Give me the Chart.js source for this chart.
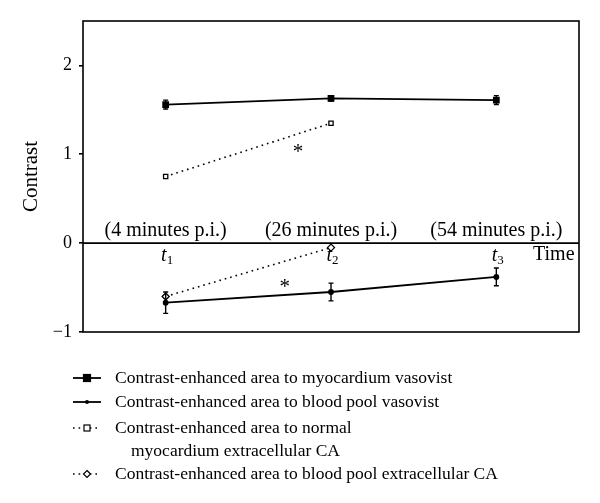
<!DOCTYPE html>
<html>
<head>
<meta charset="utf-8">
<script src="https://cdn.jsdelivr.net/npm/chart.js@4.4.0/dist/chart.umd.min.js"></script>
<style>
  html, body { margin: 0; padding: 0; background: #fff; }
  #wrap { position: relative; width: 600px; height: 503px; }
</style>
</head>
<body>
<div id="wrap"><canvas id="chart" width="600" height="503"></canvas></div>
<script>
const timePoints = [1, 2, 3];
const timeLabels = ["(4 minutes p.i.)", "(26 minutes p.i.)", "(54 minutes p.i.)"];
const timeSubscripts = ["1", "2", "3"];

const myoVasovist = [1.56, 1.63, 1.61];
const myoVasovistErr = [0.05, 0.03, 0.05];
const bloodVasovist = [-0.67, -0.55, -0.38];
const bloodVasovistErr = [0.12, 0.1, 0.1];
const myoExtra = [0.75, 1.35];
const bloodExtra = [-0.6, -0.05];

const seriesNames = [
    "Contrast-enhanced area to myocardium vasovist",
    "Contrast-enhanced area to blood pool vasovist",
    "Contrast-enhanced area to normal",
    "Contrast-enhanced area to blood pool extracellular CA"
];
const serif = "'Liberation Serif', 'DejaVu Serif', serif";

function toXY(values) {
    return values.map((v, i) => ({ x: timePoints[i], y: v }));
}

const errorBars = {
    id: "errorBars",
    afterDatasetsDraw(chart) {
        const ctx = chart.ctx;
        const ys = chart.scales.y;
        [[0, myoVasovistErr], [1, bloodVasovistErr]].forEach(([di, errs]) => {
            const meta = chart.getDatasetMeta(di);
            const vals = chart.data.datasets[di].data;
            meta.data.forEach((pt, i) => {
                const top = ys.getPixelForValue(vals[i].y + errs[i]);
                const bot = ys.getPixelForValue(vals[i].y - errs[i]);
                ctx.save();
                ctx.strokeStyle = "#000";
                ctx.lineWidth = 1.4;
                ctx.beginPath();
                ctx.moveTo(pt.x, top); ctx.lineTo(pt.x, bot);
                ctx.moveTo(pt.x - 2.5, top); ctx.lineTo(pt.x + 2.5, top);
                ctx.moveTo(pt.x - 2.5, bot); ctx.lineTo(pt.x + 2.5, bot);
                ctx.stroke();
                ctx.restore();
            });
        });
    }
};

const frame = {
    id: "frame",
    beforeDatasetsDraw(chart) {
        const { ctx, chartArea: a, scales } = chart;
        const y0 = scales.y.getPixelForValue(0);
        ctx.save();
        ctx.strokeStyle = "#000";
        ctx.lineWidth = 1.6;
        ctx.strokeRect(a.left, a.top, a.right - a.left, a.bottom - a.top);
        ctx.beginPath();
        ctx.moveTo(a.left, y0); ctx.lineTo(a.right, y0);
        ctx.stroke();

        ctx.fillStyle = "#000";
        ctx.textBaseline = "middle";
        timePoints.forEach((t, i) => {
            const px = scales.x.getPixelForValue(t);
            ctx.font = "20px " + serif;
            ctx.textAlign = "center";
            ctx.fillText(timeLabels[i], px, y0 - 12);
            ctx.font = "italic 20px " + serif;
            ctx.textAlign = "right";
            ctx.fillText("t", px + 1, y0 + 13);
            ctx.font = "13px " + serif;
            ctx.textAlign = "left";
            ctx.fillText(timeSubscripts[i], px + 1, y0 + 17);
        });
        ctx.font = "20px " + serif;
        ctx.textAlign = "left";
        ctx.fillText("Time", a.right - 46, y0 + 12);

        ctx.font = "21px " + serif;
        ctx.textAlign = "center";
        ctx.fillText("*", scales.x.getPixelForValue(1.8), scales.y.getPixelForValue(1.02));
        ctx.fillText("*", scales.x.getPixelForValue(1.72), scales.y.getPixelForValue(-0.5));

        ctx.save();
        ctx.translate(31, (a.top + a.bottom) / 2);
        ctx.rotate(-Math.PI / 2);
        ctx.font = "21px " + serif;
        ctx.fillText("Contrast", 0, 0);
        ctx.restore();
        ctx.restore();
    }
};

const legendBox = {
    id: "legendBox",
    afterDraw(chart) {
        const ctx = chart.ctx;
        const rows = [378, 402, 428, 474];
        ctx.save();
        chart.data.datasets.forEach((ds, i) => {
            const y = rows[i];
            ctx.strokeStyle = "#000";
            ctx.lineWidth = ds.borderWidth;
            ctx.setLineDash(ds.borderDash || []);
            ctx.beginPath();
            ctx.moveTo(73, y); ctx.lineTo(101, y);
            ctx.stroke();
            ctx.setLineDash([]);
            ctx.lineWidth = 1.2;
            ctx.fillStyle = ds.pointBackgroundColor;
            const r = ds.pointRadius;
            if (ds.pointStyle === "rect") {
                ctx.fillRect(87 - r, y - r, 2 * r, 2 * r);
                ctx.strokeRect(87 - r, y - r, 2 * r, 2 * r);
            } else if (ds.pointStyle === "rectRot") {
                ctx.beginPath();
                ctx.moveTo(87, y - r); ctx.lineTo(87 + r, y);
                ctx.lineTo(87, y + r); ctx.lineTo(87 - r, y);
                ctx.closePath(); ctx.fill(); ctx.stroke();
            } else {
                ctx.beginPath(); ctx.arc(87, y, r, 0, Math.PI * 2); ctx.fill();
            }
            ctx.fillStyle = "#000";
            ctx.font = "17.5px " + serif;
            ctx.textBaseline = "middle";
            ctx.textAlign = "left";
            ctx.fillText(seriesNames[i], 115, y);
        });
        ctx.fillText("myocardium extracellular CA", 131, 451);
        ctx.restore();
    }
};

new Chart(document.getElementById("chart"), {
    type: "line",
    data: {
        datasets: [
            {
                label: seriesNames[0], data: toXY(myoVasovist),
                borderColor: "#000", borderWidth: 1.8,
                pointStyle: "rect", pointRadius: 3.5,
                pointBackgroundColor: "#000", pointBorderColor: "#000"
            },
            {
                label: seriesNames[1], data: toXY(bloodVasovist),
                borderColor: "#000", borderWidth: 1.8,
                pointStyle: "circle", pointRadius: 2,
                pointBackgroundColor: "#000", pointBorderColor: "#000"
            },
            {
                label: seriesNames[2], data: toXY(myoExtra),
                borderColor: "#000", borderWidth: 1.6, borderDash: [1.6, 4],
                pointStyle: "rect", pointRadius: 3,
                pointBackgroundColor: "#fff", pointBorderColor: "#000", pointBorderWidth: 1.3
            },
            {
                label: seriesNames[3], data: toXY(bloodExtra),
                borderColor: "#000", borderWidth: 1.6, borderDash: [1.6, 4],
                pointStyle: "rectRot", pointRadius: 3.5,
                pointBackgroundColor: "#fff", pointBorderColor: "#000", pointBorderWidth: 1.3
            }
        ]
    },
    options: {
        responsive: false,
        animation: false,
        layout: { padding: { top: 21, right: 21, bottom: 171, left: 0 } },
        plugins: { legend: { display: false }, tooltip: { enabled: false } },
        scales: {
            x: { type: "linear", min: 0.5, max: 3.5, display: false },
            y: {
                min: -1, max: 2.5,
                afterFit(axis) { axis.width = 83; },
                border: { display: false },
                grid: { drawOnChartArea: false, drawTicks: true, tickLength: 4, color: "#000", lineWidth: 1.6 },
                ticks: {
                    stepSize: 1, includeBounds: false, padding: 7, color: "#000",
                    font: { family: serif, size: 18 },
                    callback: v => v < 0 ? "\u2212" + Math.abs(v) : String(v)
                }
            }
        }
    },
    plugins: [frame, errorBars, legendBox]
});
</script>
</body>
</html>
